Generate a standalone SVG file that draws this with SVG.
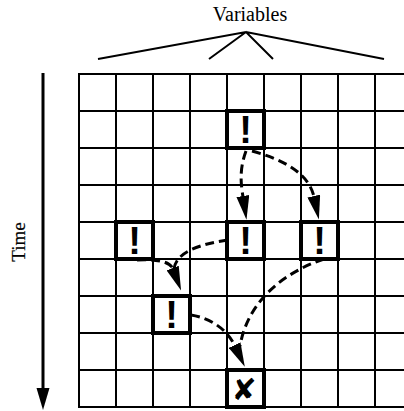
<svg xmlns="http://www.w3.org/2000/svg" width="404" height="411" viewBox="0 0 404 411">
<style>
.lbl{font-family:"Liberation Serif","Times New Roman",serif;fill:#000}
.grid line{stroke:#000;stroke-width:2}
.hl{fill:none;stroke:#000;stroke-width:4}
.bang{font-family:"Liberation Sans",Arial,sans-serif;font-weight:bold;font-size:38px;text-anchor:middle;fill:#000}
.cross{font-family:"DejaVu Sans",sans-serif;font-size:30px;text-anchor:middle;fill:#000}
.dash{fill:none;stroke:#000;stroke-width:3;stroke-dasharray:9 5}
.brk{stroke:#000;stroke-width:2;fill:none}
</style>
<defs>
<marker id="ah" viewBox="0 0 24 13" markerWidth="24" markerHeight="13" refX="1" refY="6.5" orient="auto" markerUnits="userSpaceOnUse">
<path d="M0,0 L24,6.5 L0,13 z" fill="#000"/>
</marker>
</defs>
<g id="variables-label">
<text class="lbl" x="250" y="21" font-size="20" text-anchor="middle">Variables</text>
<path class="brk" d="M98,59 L246,32 L384,59 M209,59 L246,32 L273,59"/>
</g>
<g id="time-axis">
<line x1="43" y1="73" x2="43" y2="392" stroke="#000" stroke-width="3"/>
<polygon points="36.5,388 49.5,388 43,410" fill="#000"/>
<g transform="translate(25,242) rotate(-90)" opacity="0.99"><text class="lbl" font-size="19" text-anchor="middle" fill="#000" stroke="#000" stroke-width="0.2">Time</text></g>
</g>
<g id="grid" class="grid">
<line x1="79" y1="74" x2="79" y2="407"/>
<line x1="116" y1="74" x2="116" y2="407"/>
<line x1="153" y1="74" x2="153" y2="407"/>
<line x1="190" y1="74" x2="190" y2="407"/>
<line x1="227" y1="74" x2="227" y2="407"/>
<line x1="264" y1="74" x2="264" y2="407"/>
<line x1="301" y1="74" x2="301" y2="407"/>
<line x1="338" y1="74" x2="338" y2="407"/>
<line x1="375" y1="74" x2="375" y2="407"/>
<line x1="78" y1="74" x2="404" y2="74"/>
<line x1="78" y1="111" x2="404" y2="111"/>
<line x1="78" y1="148" x2="404" y2="148"/>
<line x1="78" y1="185" x2="404" y2="185"/>
<line x1="78" y1="222" x2="404" y2="222"/>
<line x1="78" y1="259" x2="404" y2="259"/>
<line x1="78" y1="296" x2="404" y2="296"/>
<line x1="78" y1="333" x2="404" y2="333"/>
<line x1="78" y1="370" x2="404" y2="370"/>
<line x1="78" y1="407" x2="404" y2="407"/>
</g>
<g id="n1"><rect class="hl" x="227" y="111" width="37" height="37"/><text class="bang" x="245.5" y="143">!</text></g>
<g id="n2"><rect class="hl" x="116" y="222" width="37" height="37"/><text class="bang" x="134.5" y="254">!</text></g>
<g id="n3"><rect class="hl" x="227" y="222" width="37" height="37"/><text class="bang" x="245.5" y="254">!</text></g>
<g id="n4"><rect class="hl" x="301" y="222" width="37" height="37"/><text class="bang" x="319.5" y="254">!</text></g>
<g id="n5"><rect class="hl" x="153" y="296" width="37" height="37"/><text class="bang" x="171.5" y="328">!</text></g>
<g id="n6"><rect class="hl" x="227" y="370" width="37" height="37"/><text class="cross" x="244" y="400">✘</text></g>
<g id="connectors">
<path class="dash" d="M246,151 C239,170 241,184 243,197" marker-end="url(#ah)"/>
<path class="dash" d="M252,151 C285,160 309,174 314,197" marker-end="url(#ah)"/>
<path class="dash" d="M228,240 C200,244 176,252 174,269"/>
<path class="dash" d="M137,260 C155,259 170,261 173,269" marker-end="url(#ah)"/>
<path class="dash" d="M324,259 C285,272 248,300 240,346"/>
<path class="dash" d="M191,315 C210,318 227,329 235,346" marker-end="url(#ah)"/>
</g>
</svg>
